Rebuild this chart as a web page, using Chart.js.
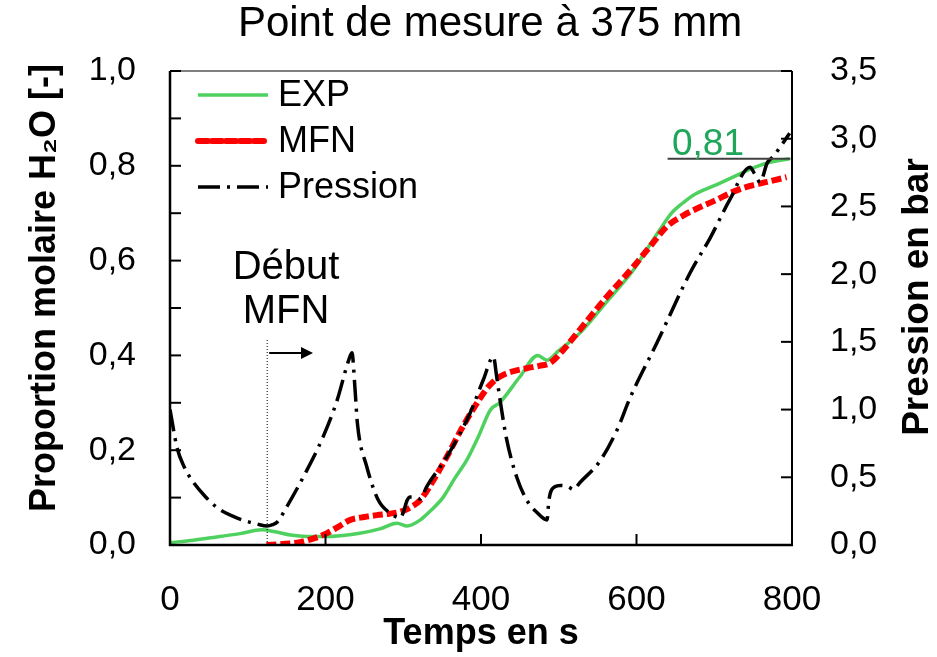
<!DOCTYPE html>
<html><head><meta charset="utf-8">
<script src="https://cdn.jsdelivr.net/npm/chart.js@4.4.1/dist/chart.umd.min.js"></script>
<style>html,body{margin:0;padding:0;background:#fff;}</style>
</head><body>
<canvas id="c" width="937" height="657"></canvas>
<script>
const FONT = '"Liberation Sans", Arial, "DejaVu Sans", sans-serif';
const chartTitle = 'Point de mesure à 375 mm';
const xAxisTitle = 'Temps en s';
const yAxisTitle = 'Proportion molaire H₂O [-]';
const y2AxisTitle = 'Pression en bar';
const seriesNames = ['EXP', 'MFN', 'Pression'];
const startLabel = ['Début', 'MFN'];
const finalLabel = '0,81';
const finalValue = 0.815;
const finalLineTimes = [640, 798];
const mfnStartTime = 125;

const expTime  = [0, 30, 60, 90, 118, 135, 155, 176, 200, 244, 270, 292, 305, 322, 335, 351, 366, 382, 397, 412, 424, 450, 473, 485, 500, 527, 560, 596, 610, 630, 645, 660, 673, 700, 724, 742, 768, 797];
const expValue = [0.005, 0.010, 0.017, 0.024, 0.032, 0.028, 0.021, 0.018, 0.018, 0.025, 0.034, 0.046, 0.040, 0.053, 0.072, 0.100, 0.140, 0.180, 0.230, 0.285, 0.300, 0.355, 0.400, 0.390, 0.410, 0.447, 0.510, 0.580, 0.615, 0.665, 0.700, 0.722, 0.738, 0.758, 0.776, 0.790, 0.806, 0.815];

const mfnTime  = [124, 145, 167, 185, 202, 218, 232, 250, 266, 282, 296, 310, 322, 340, 356, 375, 395, 410, 424, 440, 459, 475, 489, 505, 527, 560, 596, 620, 639, 660, 682, 700, 724, 745, 768, 793];
const mfnValue = [0.000, 0.002, 0.006, 0.014, 0.025, 0.040, 0.053, 0.059, 0.063, 0.066, 0.070, 0.080, 0.095, 0.140, 0.186, 0.245, 0.300, 0.335, 0.355, 0.366, 0.373, 0.378, 0.384, 0.410, 0.454, 0.520, 0.587, 0.635, 0.672, 0.695, 0.713, 0.726, 0.745, 0.757, 0.766, 0.776];

const presTime  = [0, 9, 18, 28, 45, 62, 80, 93, 112, 125, 132, 138, 150, 174, 197, 215, 229, 234, 238, 241, 253, 268, 283, 296, 300, 305, 309, 315, 322, 330, 356, 386, 403, 416, 420, 424, 433, 446, 459, 472, 485, 487, 489, 495, 502, 512, 519, 527, 553, 575, 592, 626, 669, 695, 720, 746, 752, 759, 768, 776, 797];
const presValue = [1.00, 0.72, 0.58, 0.48, 0.36, 0.27, 0.215, 0.185, 0.155, 0.14, 0.15, 0.17, 0.28, 0.53, 0.80, 1.07, 1.35, 1.42, 1.15, 0.90, 0.58, 0.33, 0.236, 0.20, 0.24, 0.33, 0.355, 0.355, 0.34, 0.43, 0.65, 0.975, 1.22, 1.39, 1.25, 1.09, 0.78, 0.50, 0.33, 0.24, 0.185, 0.31, 0.38, 0.43, 0.44, 0.43, 0.41, 0.46, 0.62, 0.85, 1.09, 1.49, 2.01, 2.27, 2.55, 2.79, 2.74, 2.68, 2.82, 2.87, 3.04];

const xTicks = [0, 200, 400, 600, 800];
const yLabelTicks = [0, 0.2, 0.4, 0.6, 0.8, 1.0];
const y2Ticks = [0, 0.5, 1.0, 1.5, 2.0, 2.5, 3.0, 3.5];

const toPts = (t, v) => t.map((ti, i) => ({x: ti, y: v[i]}));
const comma = v => v.toFixed(1).replace('.', ',');

const styles = [
  {color: '#4fd15f', width: 3.5, dash: []},
  {color: '#ff0000', width: 6, dash: [10, 4]},
  {color: '#000000', width: 3.5, dash: [22, 7, 3, 7]}
];

const decor = {
  id: 'decor',
  afterDraw(chart) {
    const {ctx, chartArea: a, scales} = chart;
    const x = scales.x, y = scales.y, y1 = scales.y1;
    ctx.save();
    const seg = (x0, y0, x1, y1_) => { ctx.beginPath(); ctx.moveTo(x0, y0); ctx.lineTo(x1, y1_); ctx.stroke(); };
    // box
    ctx.setLineDash([]);
    ctx.strokeStyle = '#555'; ctx.lineWidth = 1.5; seg(a.left, a.top, a.right, a.top);
    ctx.strokeStyle = '#000'; ctx.lineWidth = 2; seg(a.right, a.top, a.right, a.bottom);
    ctx.lineWidth = 2.5; seg(a.left, a.top, a.left, a.bottom + 1); seg(a.left - 1, a.bottom, a.right + 1, a.bottom);
    // inward ticks
    ctx.lineWidth = 2;
    y.ticks.forEach(t => { const p = y.getPixelForValue(t.value); seg(a.left, p, a.left + 11, p); });
    y1.ticks.forEach(t => { const p = y1.getPixelForValue(t.value); seg(a.right - 11, p, a.right, p); });
    x.ticks.forEach(t => { const p = x.getPixelForValue(t.value); seg(p, a.bottom - 11, p, a.bottom); });
    // title
    ctx.fillStyle = '#000';
    ctx.font = '42px ' + FONT; ctx.textAlign = 'center'; ctx.textBaseline = 'middle';
    ctx.fillText(chartTitle, 490, 24);
    // vertical axis titles (both read bottom to top)
    ctx.font = 'bold 36px ' + FONT;
    ctx.save(); ctx.translate(45, 288); ctx.rotate(-Math.PI / 2); ctx.fillText(yAxisTitle, 0, 0); ctx.restore();
    ctx.font = 'bold 37px ' + FONT;
    ctx.save(); ctx.translate(918, 297); ctx.rotate(-Math.PI / 2); ctx.fillText(y2AxisTitle, 0, 0); ctx.restore();
    // legend
    const lx0 = 198, lx1 = 268, lys = [95, 141, 187];
    ctx.font = '36px ' + FONT; ctx.textAlign = 'left'; ctx.textBaseline = 'middle';
    styles.forEach((s, i) => {
      ctx.strokeStyle = s.color; ctx.lineWidth = s.width; ctx.setLineDash(s.dash);
      ctx.lineCap = i === 1 ? 'round' : 'butt';
      seg(lx0, lys[i], lx1, lys[i]);
      ctx.setLineDash([]);
      ctx.fillStyle = '#000';
      ctx.fillText(seriesNames[i], 278, lys[i] + 1);
    });
    ctx.lineCap = 'butt';
    // start of MFN marker
    const sx = x.getPixelForValue(mfnStartTime);
    ctx.strokeStyle = '#000'; ctx.lineWidth = 1; ctx.setLineDash([1, 2]);
    seg(sx, 340, sx, a.bottom);
    ctx.setLineDash([]);
    ctx.lineWidth = 2; seg(sx + 2, 353, 306, 353);
    ctx.beginPath(); ctx.moveTo(313, 353); ctx.lineTo(301, 347); ctx.lineTo(301, 359); ctx.closePath(); ctx.fillStyle = '#000'; ctx.fill();
    ctx.font = '40px ' + FONT; ctx.textAlign = 'center'; ctx.textBaseline = 'middle';
    ctx.fillText(startLabel[0], 286, 268);
    ctx.fillText(startLabel[1], 286, 312);
    // final value annotation
    const fy = y.getPixelForValue(finalValue);
    ctx.strokeStyle = '#404040'; ctx.lineWidth = 2;
    seg(x.getPixelForValue(finalLineTimes[0]), fy, x.getPixelForValue(finalLineTimes[1]), fy);
    ctx.fillStyle = '#1fa65a'; ctx.font = '37px ' + FONT; ctx.textAlign = 'center'; ctx.textBaseline = 'alphabetic';
    ctx.fillText(finalLabel, 708, 155);
    ctx.restore();
  }
};

new Chart(document.getElementById('c'), {
  type: 'line',
  data: {
    datasets: [
      {label: seriesNames[0], data: toPts(expTime, expValue), yAxisID: 'y', borderColor: styles[0].color, borderWidth: styles[0].width, borderDash: styles[0].dash, order: 3},
      {label: seriesNames[1], data: toPts(mfnTime, mfnValue), yAxisID: 'y', borderColor: styles[1].color, borderWidth: styles[1].width, borderDash: styles[1].dash, borderCapStyle: 'butt', order: 2},
      {label: seriesNames[2], data: toPts(presTime, presValue), yAxisID: 'y1', borderColor: styles[2].color, borderWidth: styles[2].width, borderDash: styles[2].dash, order: 1}
    ]
  },
  options: {
    responsive: false,
    animation: false,
    devicePixelRatio: 1,
    layout: {padding: {top: 71, left: 0, right: 0, bottom: 0}},
    elements: {point: {radius: 0}, line: {cubicInterpolationMode: 'monotone', fill: false}},
    plugins: {legend: {display: false}, title: {display: false}, tooltip: {enabled: false}},
    scales: {
      x: {
        type: 'linear', min: 0, max: 800,
        afterBuildTicks: s => { s.ticks = xTicks.map(v => ({value: v})); },
        afterFit: s => { s.height = 112; },
        grid: {display: false, drawTicks: false}, border: {display: false},
        ticks: {padding: 34, color: '#000', font: {family: FONT, size: 35}, maxRotation: 0, callback: v => String(v)},
        title: {display: true, text: xAxisTitle, color: '#000', font: {family: FONT, size: 36, weight: 'bold'}, padding: {top: 0, bottom: 1}}
      },
      y: {
        position: 'left', min: 0, max: 1,
        afterBuildTicks: s => { s.ticks = [0,1,2,3,4,5,6,7,8,9,10].map(k => ({value: k / 10})); },
        afterFit: s => { s.width = 170; },
        grid: {display: false, drawTicks: false}, border: {display: false},
        ticks: {padding: 34, color: '#000', font: {family: FONT, size: 34},
          callback: v => yLabelTicks.some(t => Math.abs(t - v) < 1e-6) ? comma(v) : ''},
        title: {display: false}
      },
      y1: {
        position: 'right', min: 0, max: 3.5,
        afterBuildTicks: s => { s.ticks = y2Ticks.map(v => ({value: v})); },
        afterFit: s => { s.width = 145; },
        grid: {display: false, drawTicks: false}, border: {display: false},
        ticks: {padding: 38, color: '#000', font: {family: FONT, size: 34}, callback: v => comma(v)},
        title: {display: false}
      }
    }
  },
  plugins: [decor]
});
</script>
</body></html>
